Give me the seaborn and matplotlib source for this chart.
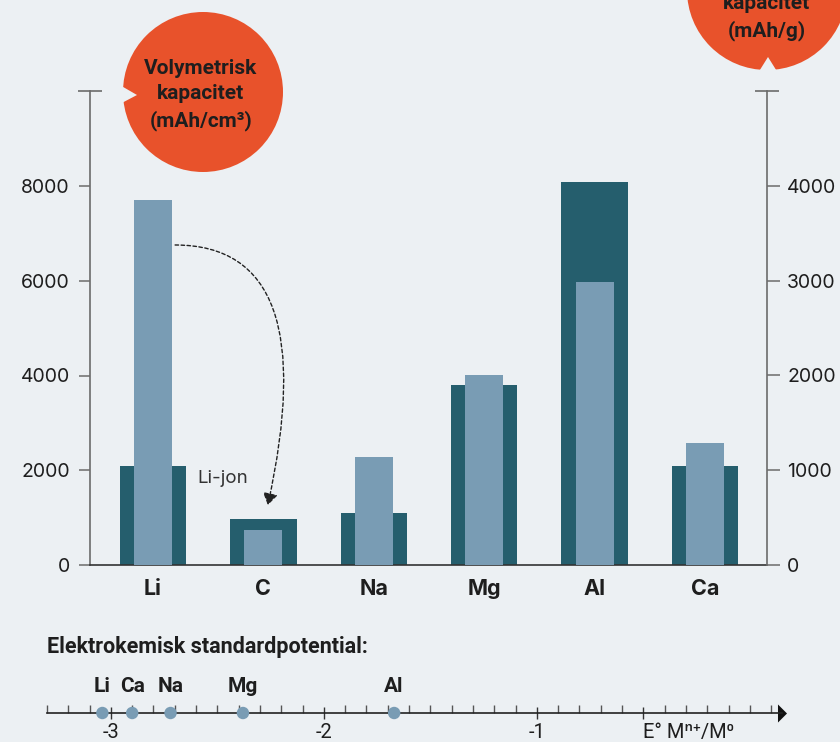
import matplotlib
matplotlib.use("Agg")
import pandas as pd
import matplotlib.pyplot as plt
import seaborn as sns
from matplotlib.patches import Circle, Polygon
from matplotlib.ticker import MultipleLocator

# --- data ---
metals = ["Li", "C", "Na", "Mg", "Al", "Ca"]
vol_capacity = [2100, 975, 1100, 3790, 8080, 2095]      # mAh/cm3 (left axis)
grav_capacity = [3850, 370, 1145, 2000, 2985, 1290]     # mAh/g (right axis)

pot_metals = ["Li", "Ca", "Na", "Mg", "Al"]
std_potential = [-3.04, -2.90, -2.72, -2.38, -1.67]

left_ticks = [0, 2000, 4000, 6000, 8000]
right_ticks = [0, 1000, 2000, 3000, 4000]
pot_ticks = [-3, -2, -1, -0.5]
pot_tick_labels = ["-3", "-2", "-1", "E° Mⁿ⁺/M⁰"]

# --- colours ---
BG = "#ECF0F3"
DARK = "#255E6D"
LIGHT = "#799CB4"
ORANGE = "#E8522B"
TXT = "#1E1E1E"
AXC = "#6B6B6B"
COND = ["Roboto", "DejaVu Sans"]

sns.set_style("white")
plt.rcParams["font.family"] = ["Inter", "DejaVu Sans"]

fig = plt.figure(figsize=(8.4, 7.42), dpi=100, facecolor=BG)

# --- main bar chart ---
df = pd.DataFrame({"metal": metals, "vol": vol_capacity, "grav": grav_capacity})

ax = fig.add_axes([90 / 840, 177 / 742, 677 / 840, 473.75 / 742])
ax.set_facecolor(BG)
sns.barplot(data=df, x="metal", y="vol", order=metals, color=DARK, saturation=1,
            width=0.6, errorbar=None, linewidth=0, ax=ax, zorder=2)
ax2 = ax.twinx()
sns.barplot(data=df, x="metal", y="grav", order=metals, color=LIGHT, saturation=1,
            width=0.344, errorbar=None, linewidth=0, ax=ax2, zorder=3)

# caps on top of both spines
ax.plot(0, 10000, marker="_", ms=17, mew=1.2, color=AXC,
        transform=ax.get_yaxis_transform(), clip_on=False)
ax2.plot(1, 5000, marker="_", ms=17, mew=1.2, color=AXC,
         transform=ax2.get_yaxis_transform(), clip_on=False)

ax.set_xlim(-0.571, 5.562)
ax.set_ylim(0, 10000)
ax2.set_ylim(0, 5000)
ax.set_yticks(left_ticks)
ax2.set_yticks(right_ticks)
ax.set_xlabel("")
ax.set_ylabel("")
ax2.set_ylabel("")

for s in ["top", "right"]:
    ax.spines[s].set_visible(False)
for s in ["top", "left", "bottom"]:
    ax2.spines[s].set_visible(False)
ax.spines["left"].set_color(AXC)
ax.spines["left"].set_linewidth(1.2)
ax.spines["bottom"].set_color("#333333")
ax.spines["bottom"].set_linewidth(1.2)
ax2.spines["right"].set_color(AXC)
ax2.spines["right"].set_linewidth(1.2)

ax.tick_params(axis="y", left=True, length=8, width=1.1, color=AXC, pad=6.5,
               labelsize=14, labelcolor=TXT)
ax2.tick_params(axis="y", right=True, length=9, width=1.1, color=AXC, pad=5.5,
                labelsize=14, labelcolor=TXT)
ax.tick_params(axis="x", length=0, pad=10, labelsize=15.5, labelcolor=TXT)
for t in ax.get_xticklabels():
    t.set_fontweight("bold")

# Li-jon annotation
ax.text(0.4, 1836, "Li-jon", ha="left", va="center", fontsize=13.5, color="#333333")
ax.annotate("", xy=(1.04, 1266), xytext=(0.2, 6755),
            arrowprops=dict(arrowstyle="-|>,head_length=0.7,head_width=0.45",
                            connectionstyle="angle3,angleA=0,angleB=77.6",
                            linestyle=(0, (2.5, 1.8)), lw=1, color="#222222",
                            shrinkA=0, shrinkB=0))

# --- electrochemical potential scale ---
fig.text(47 / 840, 1 - 647 / 742, "Elektrokemisk standardpotential:",
         fontsize=15.5, fontweight="bold", family=COND, va="center", color=TXT)

pax = fig.add_axes([47 / 840, 29 / 742, 735 / 840, 45 / 742])
pax.set_facecolor("none")
pax.set_xlim(-3.3, 0.151)
pax.set_ylim(0, 1)
for s in ["top", "left", "right"]:
    pax.spines[s].set_visible(False)
pax.spines["bottom"].set_color("#222222")
pax.spines["bottom"].set_linewidth(1.2)
pax.set_yticks([])
pax.set_xticks(pot_ticks, pot_tick_labels)
pax.xaxis.set_minor_locator(MultipleLocator(0.1))
pax.tick_params(axis="x", which="major", bottom=True, direction="inout", length=8.6,
                width=1, color="#333333", pad=3, labelsize=14.5, labelcolor=TXT)
pax.tick_params(axis="x", which="minor", bottom=True, direction="in", length=5.5,
                width=1, color="#555555")
for t in pax.get_xticklabels():
    t.set_family(COND)
pax.get_xticklabels()[-1].set_horizontalalignment("left")

sns.scatterplot(x=std_potential, y=[0] * len(std_potential), ax=pax, color=LIGHT,
                s=80, edgecolor="none", zorder=5, clip_on=False, legend=False)
for name, x in zip(pot_metals, std_potential):
    pax.annotate(name, (x, 0), xytext=(0, 19), textcoords="offset points",
                 ha="center", va="center", fontsize=15, fontweight="bold",
                 family=COND, color=TXT)
pax.plot(1, 0, marker=[(-0.5, -1), (-0.5, 1), (0.5, 0)], ms=13, color="#111111",
         mew=0, transform=pax.transAxes, clip_on=False)

# --- orange bubbles with axis titles ---
ov = fig.add_axes([0, 0, 1, 1], zorder=10)
ov.set_xlim(0, 840)
ov.set_ylim(742, 0)
ov.axis("off")
ov.add_patch(Circle((203, 92), 80, color=ORANGE, lw=0))
ov.add_patch(Polygon([(118, 84), (118, 105), (137, 95)], closed=True, color=BG, lw=0))
ov.text(201, 95, "Volymetrisk\nkapacitet\n(mAh/cm³)", ha="center", va="center",
        fontsize=15, fontweight="bold", family=COND, linespacing=1.45, color=TXT)
ov.add_patch(Circle((767, -10), 80, color=ORANGE, lw=0))
ov.add_patch(Polygon([(758, 73), (778, 73), (768, 57)], closed=True, color=BG, lw=0))
ov.text(767, 5, "Gravimetrisk\nkapacitet\n(mAh/g)", ha="center", va="center",
        fontsize=15, fontweight="bold", family=COND, linespacing=1.45, color=TXT)

fig.savefig("out.png", dpi=100, facecolor=BG)
